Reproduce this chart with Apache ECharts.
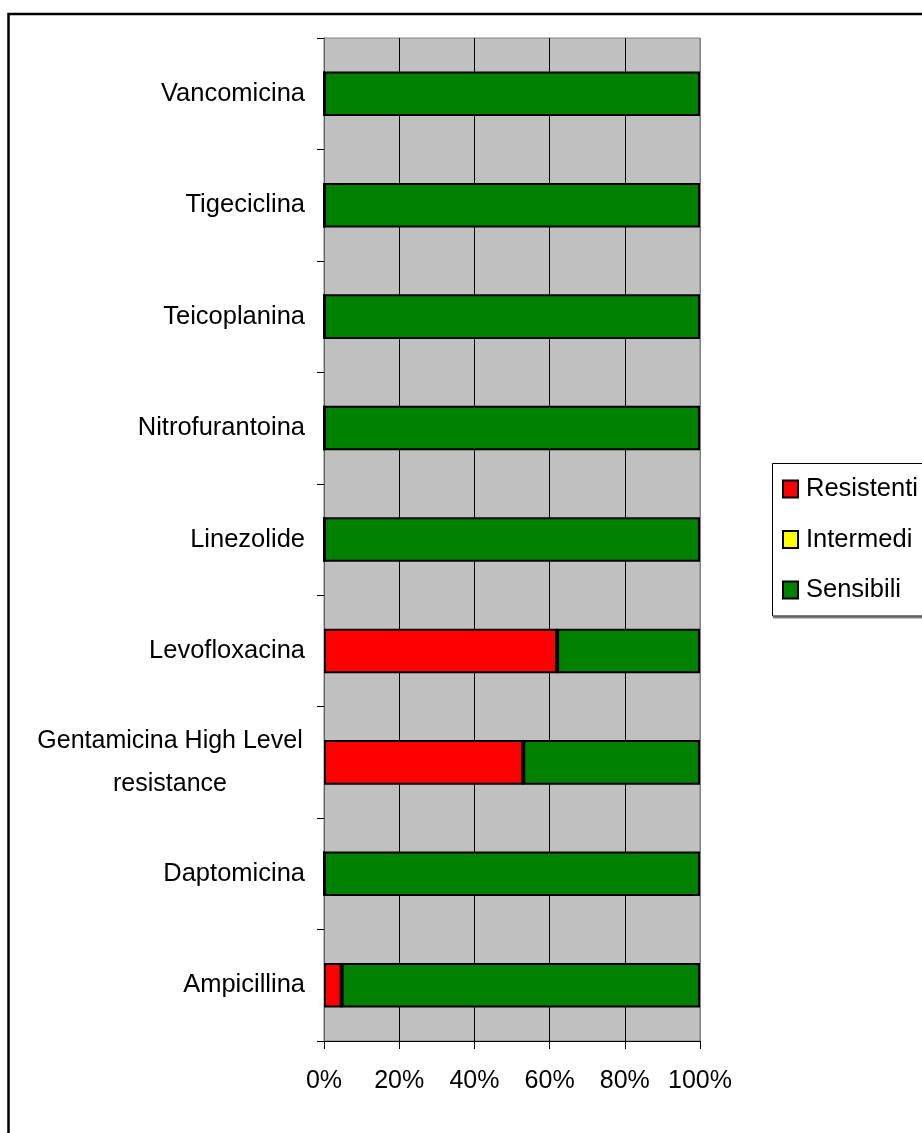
<!DOCTYPE html>
<html>
<head>
<meta charset="utf-8">
<script src="https://cdn.jsdelivr.net/npm/echarts@6/dist/echarts.min.js"></script>
<style>
html,body{margin:0;padding:0;background:#fff;}
#c{width:922px;height:1133px;}
</style>
</head>
<body>
<div id="c"></div>
<script>
const categories = ['Ampicillina','Daptomicina','Gentamicina High Level\nresistance','Levofloxacina','Linezolide','Nitrofurantoina','Teicoplanina','Tigeciclina','Vancomicina'];
const resistenti = [4.7, 0, 53, 62, 0, 0, 0, 0, 0];
const intermedi  = [0, 0, 0, 0, 0, 0, 0, 0, 0];
const sensibili  = [95.3, 100, 47, 38, 100, 100, 100, 100, 100];
const xTicks = [0, 20, 40, 60, 80, 100];

const FONT = "'Liberation Sans',Arial,sans-serif";
const FS = 25.5;
const chart = echarts.init(document.getElementById('c'));
function mk(name, data, color){
  return {name, type:'bar', stack:'a', data, barWidth:'40%',
    itemStyle:{color, borderColor:'#000', borderWidth:2}};
}
chart.setOption({
  animation:false,
  backgroundColor:'#fff',
  textStyle:{fontFamily:FONT},
  grid:{left:324, right:222, top:38, bottom:92, show:true, backgroundColor:'#C0C0C0', borderColor:'#808080', borderWidth:1},
  xAxis:{type:'value', min:xTicks[0], max:xTicks[xTicks.length-1], interval:xTicks[1]-xTicks[0],
    axisLine:{show:true, lineStyle:{color:'#000', width:1}},
    axisTick:{show:true, length:8, lineStyle:{color:'#000'}},
    splitLine:{show:true, lineStyle:{color:['#808080','#000','#000','#000','#000','#808080'], width:1}},
    axisLabel:{formatter:v=>v+'%', color:'#000', fontSize:25, fontFamily:FONT, margin:28, lineHeight:25}
  },
  yAxis:{type:'category', data:categories,
    axisLine:{show:true, lineStyle:{color:'#606060', width:1}},
    axisTick:{show:true, length:7, lineStyle:{color:'#000'}},
    axisLabel:{color:'#000', fontSize:FS, fontFamily:FONT, margin:19, lineHeight:43,
      formatter:function(v){ return v.indexOf('\n')>=0 ? v.split('\n').map(s=>'{c|'+s+'}').join('\n') : v; },
      rich:{c:{width:270, align:'center', fontSize:FS-0.5, fontFamily:FONT, lineHeight:43, color:'#000'}}
    }
  },
  legend:{orient:'vertical', left:782, top:472, padding:0, itemWidth:15, itemHeight:17, itemGap:16.5,
    icon:'rect',
    textStyle:{color:'#000', fontSize:FS, fontFamily:FONT, lineHeight:34, padding:[0,0,0,3]},
    data:['Resistenti','Intermedi','Sensibili']
  },
  graphic:[
    {type:'rect', shape:{x:8.5, y:14, width:1000, height:1300}, style:{fill:null, stroke:'#000', lineWidth:2.5}, silent:true},
    {type:'line', shape:{x1:773, y1:617.5, x2:922, y2:617.5}, style:{stroke:'#808080', lineWidth:2}, silent:true},
    {type:'rect', shape:{x:772.5, y:463.5, width:200, height:152.5}, style:{fill:null, stroke:'#000', lineWidth:1}, silent:true}
  ],
  series:[
    mk('Resistenti', resistenti, '#FF0000'),
    mk('Intermedi', intermedi, '#FFFF00'),
    mk('Sensibili', sensibili, '#008000')
  ]
});
</script>
</body>
</html>
